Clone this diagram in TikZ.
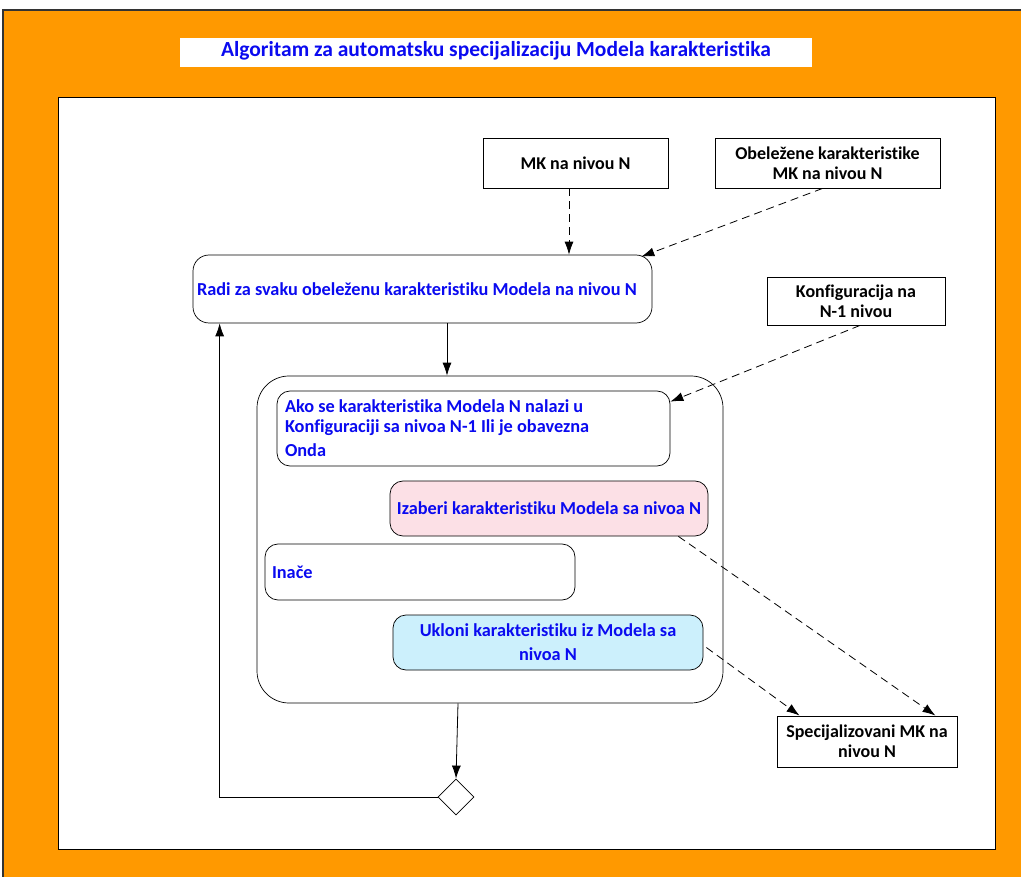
\documentclass[tikz,border=0pt]{standalone}
\usepackage{fontspec}
\setmainfont{Carlito}[Ligatures=NoCommon]
\usetikzlibrary{arrows.meta,shapes.geometric,calc}
\definecolor{frameorange}{RGB}{255,153,0}
\definecolor{pinkfill}{RGB}{252,224,230}
\definecolor{cyanfill}{RGB}{204,240,252}
\definecolor{txtblue}{RGB}{10,10,240}
\tikzset{
  plainbox/.style={draw=black, line width=0.9pt, fill=white, font=\bfseries\fontsize{18}{20}\selectfont, align=center, inner sep=0pt},
  roundbox/.style={draw=black, line width=0.7pt, rounded corners=13pt, font=\bfseries\fontsize{18.3}{20}\selectfont, text=txtblue, inner sep=0pt},
  dasharrow/.style={draw=black, line width=0.8pt, dash pattern=on 8pt off 5pt, -{Latex[length=13pt,width=9pt]}},
  solidarrow/.style={draw=black, line width=0.8pt, -{Latex[length=13pt,width=9pt]}},
  plainline/.style={draw=black, line width=0.8pt}
}
\begin{document}
\begin{tikzpicture}[x=1pt,y=-1pt]
\useasboundingbox (0,0) rectangle (1021,877);
% frame
\fill[frameorange] (3,10) rectangle (1030,890);
\draw[black!80, line width=1.2pt] (3,890) -- (3,10) -- (1030,10);
\fill[white] (180,38) rectangle (812,67);
\node[font=\bfseries\fontsize{21.5}{24}\selectfont, text=txtblue] (title) at (496,51) {Algoritam za automatsku specijalizaciju Modela karakteristika};
\draw[draw=black, fill=white, line width=0.8pt] (58,97) rectangle (995,849);
% top boxes
\node[plainbox, minimum width=185pt, minimum height=50pt] (mk) at (575.5,163) {MK na nivou N};
\node[plainbox, minimum width=225pt, minimum height=50pt] (obel) at (827.5,163) {Obeležene karakteristike\\MK na nivou N};
\node[plainbox, minimum width=178pt, minimum height=48pt] (konf) at (856,301) {Konfiguracija na\\N-1 nivou};
\node[plainbox, minimum width=180pt, minimum height=51pt] (spec) at (867,741.5) {Specijalizovani MK na\\nivou N};
% main rounded
\node[roundbox, rounded corners=16pt, minimum width=459pt, minimum height=68pt, inner xsep=4pt, text width=451pt, align=flush left] (radi) at (422.5,289) {Radi za svaku obeleženu karakteristiku Modela na nivou N};
\node[draw=black, line width=0.7pt, rounded corners=32pt, minimum width=466pt, minimum height=327pt, inner sep=0pt] (cont) at (490,539.5) {};
\node[roundbox, minimum width=393pt, minimum height=75pt, inner xsep=8pt, text width=377pt, align=flush left] (ako) at (473.5,428.5) {Ako se karakteristika Modela N nalazi u\\Konfiguraciji sa nivoa N-1 Ili je obavezna\\[4pt]Onda};
\node[roundbox, fill=pinkfill, minimum width=318pt, minimum height=55pt] (izab) at (549,508.5) {Izaberi karakteristiku Modela sa nivoa N};
\node[roundbox, minimum width=310pt, minimum height=56pt, inner xsep=7pt, text width=296pt, align=flush left] (inace) at (420,572) {Inače};
\node[roundbox, fill=cyanfill, minimum width=310pt, minimum height=55pt, align=center] (ukl) at (548,642.5) {Ukloni karakteristiku iz Modela sa\\[4pt]nivoa N};
\node[draw=black, line width=0.8pt, diamond, minimum width=36pt, minimum height=36pt, inner sep=0pt] (dia) at (456,797) {};
% connectors
\draw[dasharrow] ([xshift=-6.5pt]mk.south) -- ([xshift=-6.5pt]mk.south |- radi.north);
\draw[dasharrow] ([xshift=-5pt]obel.south) -- ([xshift=-11pt,yshift=-2pt]radi.north east);
\draw[solidarrow] ([xshift=24.5pt]radi.south) -- ([xshift=24.5pt]radi.south |- cont.north);
\draw[dasharrow] ([xshift=4pt]konf.south) -- ([yshift=-11pt]ako.north east);
\draw[dasharrow] ([xshift=-30pt]izab.south east) -- ([xshift=-22pt]spec.north east);
\draw[dasharrow] ([xshift=3pt,yshift=-5pt]ukl.east) -- ([xshift=23pt]spec.north west);
\draw[solidarrow] ([xshift=-32pt]cont.south) -- (dia.north);
\coordinate (lp) at ([xshift=27pt]radi.south west);
\draw[solidarrow] (dia.west) -| (lp);
\end{tikzpicture}
\end{document}
